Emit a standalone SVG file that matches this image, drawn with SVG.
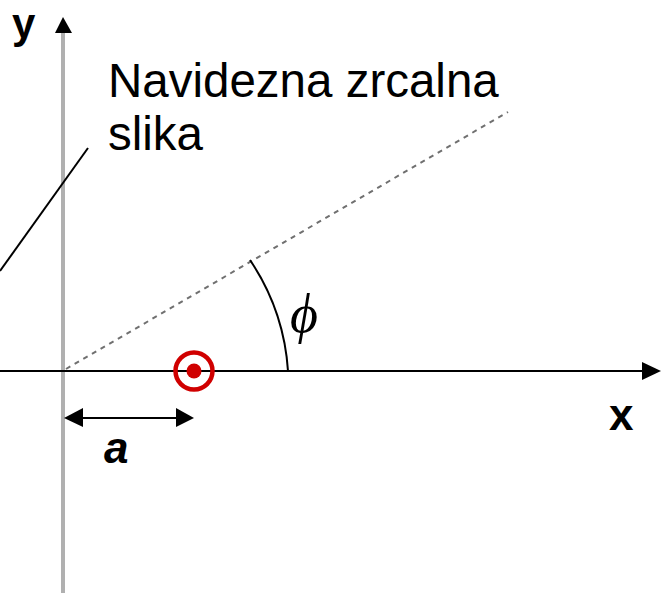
<svg xmlns="http://www.w3.org/2000/svg" width="661" height="593" viewBox="0 0 661 593">
<style>
.lbl{font-family:"Liberation Sans",Arial,sans-serif;fill:#000}
.ax{stroke:#000;stroke-width:2;fill:none}
</style>
<rect width="661" height="593" fill="#fff"/>
<g id="connectors">
  <line x1="63" y1="30" x2="63" y2="593" stroke="#b0b0b0" stroke-width="4"/>
  <polygon points="63,17 55,33 72,33" fill="#000"/>
  <line class="ax" x1="0" y1="371" x2="645" y2="371"/>
  <polygon points="661,371 642,362 642,380" fill="#000"/>
  <line x1="66" y1="369" x2="508" y2="112" stroke="#707070" stroke-width="2" stroke-dasharray="5,5"/>
  <path class="ax" d="M250,260 A225,225 0 0 1 288,371" stroke-width="1.8"/>
  <line x1="0" y1="271" x2="88" y2="148" stroke="#000" stroke-width="2"/>
  <line class="ax" x1="80" y1="418" x2="178" y2="418"/>
  <polygon points="64,418 83,408 83,427" fill="#000"/>
  <polygon points="194,418 176,408 176,427" fill="#000"/>
</g>
<g id="source">
  <circle cx="194" cy="371" r="18.5" fill="none" stroke="#d00000" stroke-width="4.5"/>
  <circle cx="194" cy="371" r="7.5" fill="#d00000"/>
</g>
<g id="labels">
  <text class="lbl" x="108" y="97" font-size="47.5">Navidezna zrcalna</text>
  <text class="lbl" x="108" y="150" font-size="47.5">slika</text>
  <text class="lbl" x="12" y="38" font-size="42" font-weight="bold">y</text>
  <text class="lbl" x="609" y="430" font-size="44" font-weight="bold">x</text>
  <text class="lbl" x="104" y="463" font-size="44" font-weight="bold" font-style="italic">a</text>
  <text x="290" y="332" font-size="54" font-style="italic" font-family="'Liberation Serif','DejaVu Serif',serif">ϕ</text>
</g>
</svg>
